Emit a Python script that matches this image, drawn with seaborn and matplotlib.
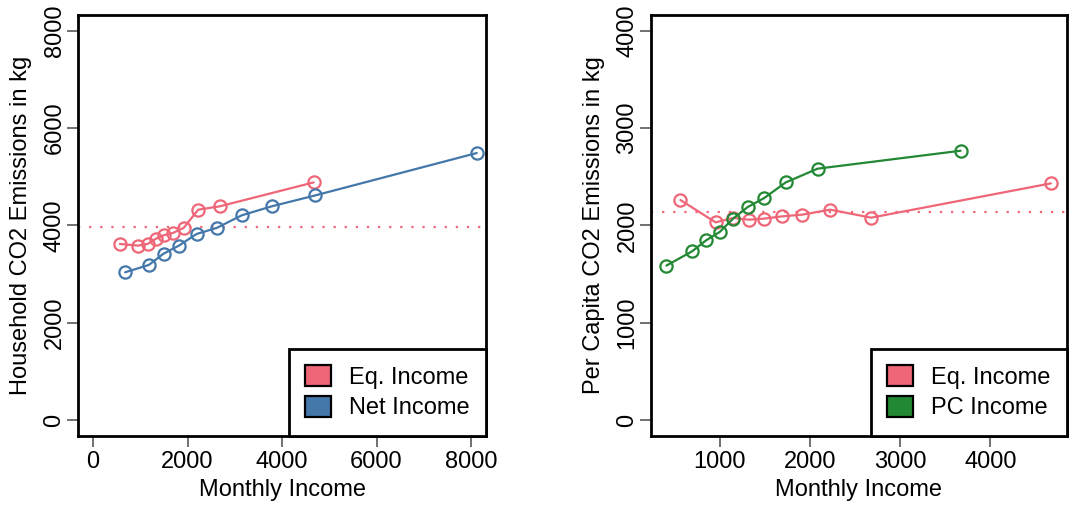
import matplotlib
matplotlib.use("Agg")
import matplotlib.pyplot as plt
from matplotlib.patches import Patch
import seaborn as sns
import pandas as pd

# income (x) for the equivalised income groups, same in both panels
eq_income = [565, 954, 1152, 1322, 1491, 1689, 1915, 2225, 2678, 4669]
eq_household = [3618, 3584, 3618, 3721, 3795, 3844, 3946, 4322, 4390, 4882]
eq_percapita = [2260, 2031, 2076, 2058, 2069, 2092, 2110, 2161, 2079, 2431]

net_income = [678, 1180, 1491, 1816, 2190, 2614, 3144, 3779, 4703, 8122]
net_household = [3036, 3187, 3419, 3584, 3823, 3946, 4205, 4390, 4615, 5485]

pc_income = [410, 694, 849, 1000, 1148, 1310, 1494, 1731, 2085, 3668]
pc_percapita = [1587, 1733, 1846, 1932, 2069, 2188, 2281, 2441, 2582, 2766]

RED = "#EE6677"
BLUE = "#4477AA"
GREEN = "#228833"

sns.set_style("white")
plt.rcParams["font.family"] = ["Liberation Sans", "DejaVu Sans"]
plt.rcParams["font.size"] = 17
plt.rcParams["text.color"] = "black"
plt.rcParams["axes.labelcolor"] = "black"

fig = plt.figure(figsize=(10.69, 5.08), dpi=100)
ax1 = fig.add_axes([0.073, 0.1423, 0.3817, 0.8282])
ax2 = fig.add_axes([0.609, 0.1423, 0.389, 0.8282])


def draw(ax, x, y, color):
    df = pd.DataFrame({"x": x, "y": y})
    sns.lineplot(data=df, x="x", y="y", ax=ax, color=color, sort=False,
                 marker="o", markersize=8.8, markerfacecolor="none",
                 markeredgecolor=color, markeredgewidth=1.6, linewidth=1.6,
                 legend=False, zorder=3)


def style(ax, xlim, ylim, xticks, yticks, ylabel, labels, colors):
    ax.set_xlim(xlim)
    ax.set_ylim(ylim)
    ax.set_xticks(xticks)
    ax.set_yticks(yticks)
    ax.set_yticklabels([str(t) for t in yticks], rotation=90, va="center")
    ax.set_xlabel("Monthly Income", fontsize=17, labelpad=4)
    ax.set_ylabel(ylabel, fontsize=17, labelpad=8)
    ax.tick_params(axis="both", direction="out", length=8, width=1.2,
                   color="0.35", labelcolor="black", labelsize=17, pad=3,
                   bottom=True, left=True)
    ax.tick_params(axis="y", pad=1)
    for s in ax.spines.values():
        s.set_visible(True)
        s.set_color("black")
        s.set_linewidth(2)
    handles = [Patch(facecolor=c, edgecolor="black", linewidth=1.6) for c in colors]
    leg = ax.legend(handles, labels, loc="lower right", borderaxespad=0,
                    fancybox=False, framealpha=1, edgecolor="black",
                    fontsize=17, handlelength=1.1, handleheight=1.0,
                    handletextpad=0.75, borderpad=0.7, labelspacing=0.28)
    leg.get_frame().set_linewidth(2)


# left panel: household emissions
ax1.axhline(sum(eq_household) / len(eq_household), color=RED, linestyle=(0, (1, 4)),
            linewidth=1.6, zorder=1)
draw(ax1, eq_income, eq_household, RED)
draw(ax1, net_income, net_household, BLUE)
style(ax1, (-320, 8320), (-320, 8320), [0, 2000, 4000, 6000, 8000],
      [0, 2000, 4000, 6000, 8000], "Household CO2 Emissions in kg",
      ["Eq. Income", "Net Income"], [RED, BLUE])

# right panel: per capita emissions
ax2.axhline(sum(eq_percapita) / len(eq_percapita), color=RED, linestyle=(0, (1, 4)),
            linewidth=1.6, zorder=1)
draw(ax2, eq_income, eq_percapita, RED)
draw(ax2, pc_income, pc_percapita, GREEN)
style(ax2, (239, 4846), (-160, 4160), [1000, 2000, 3000, 4000],
      [0, 1000, 2000, 3000, 4000], "Per Capita CO2 Emissions in kg",
      ["Eq. Income", "PC Income"], [RED, GREEN])

fig.savefig("out.png", dpi=100)
